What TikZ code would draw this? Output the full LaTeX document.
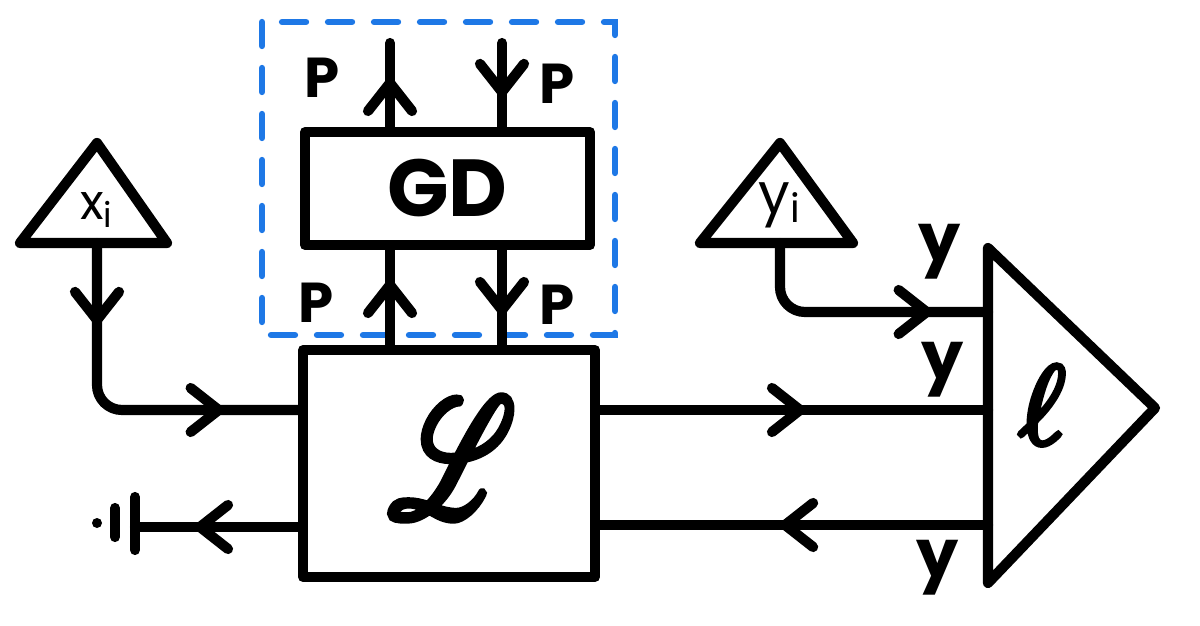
\documentclass[tikz,border=0pt]{standalone}
\usepackage[no-math]{fontspec}
\setmainfont{Poppins}
\usepackage{mathrsfs}
\usepackage{graphicx}
\usetikzlibrary{arrows.meta,decorations.markings,calc}
\definecolor{penblue}{RGB}{30,120,230}
\newcommand{\heavytext}[1]{\special{pdf:literal direct 0.45 w 2 Tr}#1\special{pdf:literal direct 0 Tr}}
\begin{document}
\begin{tikzpicture}[x=0.1mm,y=-0.1mm,
  ink/.style={line width=2.9pt,line cap=round,line join=round},
  box/.style={ink,draw,rectangle,inner sep=0pt},
  conn/.style={ink,draw},
  arr/.style={postaction={decorate,decoration={markings,
      mark=at position #1 with {\arrow{Straight Barb[length=2.8mm,width=4.4mm,round]}}}}},
  plab/.style={font=\fontsize{16}{16}\selectfont\bfseries},
  ylab/.style={font=\fontsize{19}{19}\selectfont\bfseries},
  grp/.style={draw=penblue,line width=1.8pt,dash pattern=on 2.4mm off 2.2mm,line cap=round}]
\useasboundingbox (0,0) rectangle (1200,626);

% grouping box
\draw[grp] (262,22) rectangle (615,335);

% input triangles
\coordinate (xa) at (97,143); \coordinate (xl) at (20,243); \coordinate (xr) at (167,243);
\draw[ink] (xa) -- (xr) -- (xl) -- cycle;
\node (xlab) at (97,210) {\fontsize{14}{14}\selectfont x\textsubscript{i}};
\coordinate (xb) at (97,243);

\coordinate (ya) at (780,143); \coordinate (yl) at (700,243); \coordinate (yr) at (853,243);
\draw[ink] (ya) -- (yr) -- (yl) -- cycle;
\node (ylabi) at (780,205) {\fontsize{16}{16}\selectfont y\textsubscript{i}};
\coordinate (yb) at (780,243);

% boxes
\node[box,minimum width=29.2mm,minimum height=22.7mm] (Lbox) at (449,463.5) {};
\node (Ltxt) at (452,458) {\scalebox{3.4}[4.8]{\heavytext{$\mathscr{L}$}}};
\node[box,minimum width=28.5mm,minimum height=11.3mm,font=\fontsize{23}{23}\selectfont\bfseries] (GD) at (447.5,188.5) {GD};

% loss triangle
\coordinate (ellt) at (988,248); \coordinate (ellp) at (1155,408); \coordinate (ellb) at (988,583);
\draw[ink] (ellt) -- (ellp) -- (ellb) -- cycle;
\node (elltxt) at (1042,405) {\scalebox{3.2}{\heavytext{$\ell$}}};

% GD connectors
\coordinate (cL) at (390,0); \coordinate (cR) at (502,0);
\coordinate (tL) at (390,43); \coordinate (tR) at (502,43);
\draw[conn,arr=6.5mm] (Lbox.north -| cL) -- (GD.south -| cL);
\draw[conn,arr=6.5mm] (GD.south -| cR) -- (Lbox.north -| cR);
\draw[conn,arr=4.9mm] (GD.north -| cL) -- (tL);
\draw[conn,arr=5.4mm] (tR) -- (GD.north -| cR);

\node[plab] (p1) at (322,78) {P};
\node[plab] (p2) at (557,84) {P};
\node[plab] (p3) at (316,303) {P};
\node[plab] (p4) at (557,305) {P};

% main connectors
\draw[conn,rounded corners=2.5mm,arr=8.2mm,arr=28.3mm] (xb) |- (Lbox.west |- 0,410);
\draw[conn,arr=20.5mm] (Lbox.east |- 0,410) -- (ellt |- 0,410);
\draw[conn,arr=20.8mm] (ellt |- 0,525) -- (Lbox.east |- 0,525);
\coordinate (gnd) at (135,527);
\draw[conn,arr=10.3mm] (Lbox.west |- 0,527) -- (gnd);
\draw[conn,rounded corners=2.5mm,arr=21mm] (yb) |- (ellt |- 0,312);

% ground symbol
\draw[ink] (135,497) -- (135,550);
\draw[ink] (115,508) -- (115,537);
\fill (97,523) circle (0.5mm);

% y labels
\node[ylab] (y1) at (940,252) {y};
\node[ylab] (y2) at (943,370) {y};
\node[ylab] (y3) at (938,568) {y};
\end{tikzpicture}
\end{document}
